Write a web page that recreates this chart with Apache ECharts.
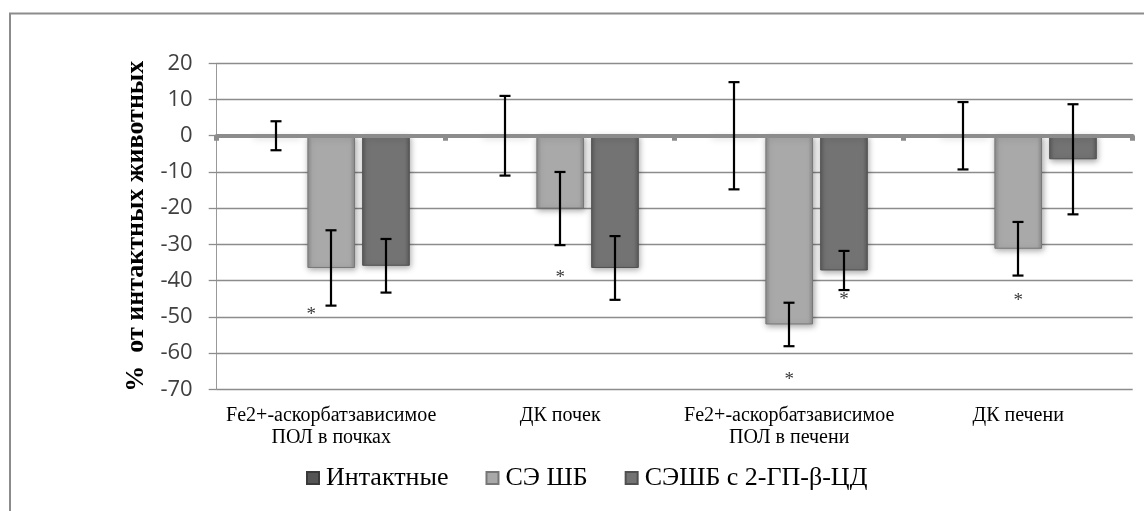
<!DOCTYPE html>
<html>
<head>
<meta charset="utf-8">
<script src="https://cdn.jsdelivr.net/npm/echarts@6/dist/echarts.min.js"></script>
<style>html,body{margin:0;padding:0;background:#fff}#c{width:1144px;height:511px}</style>
</head>
<body>
<div id="c"></div>
<script>
const categories = ['Fe2+-аскорбатзависимое\nПОЛ в почках', 'ДК почек', 'Fe2+-аскорбатзависимое\nПОЛ в печени', 'ДК печени'];
const seriesNames = ['Интактные', 'СЭ ШБ', 'СЭШБ с 2-ГП-β-ЦД'];
const yTitle = '%  от интактных животных';
const intact = [0, 0, 0, 0];
const intactErr = [4, 11, 14.8, 9.3];
const sesb = [-36.5, -20.1, -52.1, -31.2];
const sesbErr = [10.4, 10.1, 6, 7.4];
const sesbCd = [-35.9, -36.5, -37.2, -6.5];
const sesbCdErr = [7.4, 8.8, 5.4, 15.2];
const sesbStar = [-48.5, -38.2, -66.4, -44.5];
const sesbCdStar = [null, null, -44.3, null];
const yTicks = { min: -70, max: 20, interval: 10 };

const SERIF = 'Liberation Serif';
const BAR_W = 0.208, GAP = 0.15;

function grad(edge, mid) {
  return new echarts.graphic.LinearGradient(0, 0, 1, 0, [
    { offset: 0, color: edge }, { offset: 0.1, color: mid },
    { offset: 0.5, color: mid }, { offset: 0.9, color: mid }, { offset: 1, color: edge }
  ]);
}
const styles = [
  { color: grad('#3f3f3f', '#555555'), borderColor: '#3a3a3a' },
  { color: grad('#8c8c8c', '#a9a9a9'), borderColor: '#777777' },
  { color: grad('#5c5c5c', '#737373'), borderColor: '#505050' }
];

const vals = [intact, sesb, sesbCd];
const errs = [intactErr, sesbErr, sesbCdErr];
const errData = [];
for (let s = 0; s < 3; s++) for (let c = 0; c < categories.length; c++) errData.push([c, vals[s][c], errs[s][c], s]);
const starData = [];
const starSets = [[1, sesbStar], [2, sesbCdStar]];
starSets.forEach(([s, arr]) => arr.forEach((v, c) => { if (v !== null) starData.push([c, v, s]); }));

const barSeries = seriesNames.map((n, s) => ({
  name: n, type: 'bar', data: vals[s], xAxisIndex: 0,
  barWidth: (BAR_W * 100) + '%', barGap: (GAP * 100) + '%',
  itemStyle: Object.assign({ borderWidth: 1, shadowBlur: 6, shadowColor: 'rgba(0,0,0,0.35)', shadowOffsetY: 2, shadowOffsetX: 1 }, styles[s]),
  z: 2
}));

const chart = echarts.init(document.getElementById('c'), null, { renderer: 'canvas' });
chart.setOption({
  animation: false,
  backgroundColor: '#ffffff',
  textStyle: { fontFamily: SERIF },
  graphic: [{ type: 'rect', shape: { x: 10, y: 13.5, width: 1300, height: 700 }, style: { fill: 'none', stroke: '#8c8c8c', lineWidth: 2 }, z: -10 }],
  grid: { left: 216.7, right: 11.3, top: 63.3, bottom: 121.7 },
  legend: {
    data: seriesNames, left: 306, top: 465, padding: 0, itemWidth: 12, itemHeight: 12, itemGap: 37, icon: 'rect',
    formatter: '{t|{name}}',
    textStyle: { fontFamily: SERIF, fontSize: 26, color: '#000',
      rich: { t: { fontFamily: SERIF, fontSize: 26, color: '#000', padding: [0, 0, 0, 2] } } }
  },
  xAxis: [{
    type: 'category', data: categories, position: 'bottom',
    axisLine: { show: false, onZero: false }, axisTick: { show: false },
    axisLabel: { fontFamily: SERIF, fontSize: 20, color: '#000', lineHeight: 22, margin: 15, interval: 0 }
  }, {
    type: 'category', data: categories, position: 'top',
    axisLine: { show: true, onZero: true, lineStyle: { color: '#8c8c8c', width: 4 } },
    axisTick: { show: true, inside: true, length: 5, lineStyle: { color: '#8c8c8c', width: 5 } },
    axisLabel: { show: false }, z: 3
  }],
  yAxis: {
    type: 'value', min: yTicks.min, max: yTicks.max, interval: yTicks.interval,
    name: yTitle, nameLocation: 'middle', nameGap: 66, nameRotate: 90,
    nameTextStyle: { fontFamily: SERIF, fontWeight: 'bold', fontSize: 26, color: '#000' },
    axisLine: { show: true, lineStyle: { color: '#999', width: 1 } },
    axisTick: { show: true, length: 8, lineStyle: { color: '#8c8c8c', width: 1.3 } },
    axisLabel: { fontFamily: 'Open Sans', fontSize: 22, color: '#404040', margin: 24 },
    splitLine: { lineStyle: { color: '#8c8c8c', width: 1.3 } }
  },
  series: barSeries.concat([{
    type: 'custom', xAxisIndex: 0, data: errData, encode: { x: 0, y: 1 }, z: 10, silent: true,
    renderItem: function (params, api) {
      const c = api.value(0), v = api.value(1), e = api.value(2), s = api.value(3);
      const band = api.size([1, 0])[0];
      const step = band * BAR_W * (1 + GAP);
      const x = Math.round(api.coord([c, 0])[0] + (s - 1) * step);
      const yT = api.coord([c, v + e])[1], yB = api.coord([c, v - e])[1];
      const h = 5.5, st = { stroke: '#000', lineWidth: 2.2 };
      return { type: 'group', children: [
        { type: 'line', shape: { x1: x, y1: yT, x2: x, y2: yB }, style: st },
        { type: 'line', shape: { x1: x - h, y1: yT, x2: x + h, y2: yT }, style: st },
        { type: 'line', shape: { x1: x - h, y1: yB, x2: x + h, y2: yB }, style: st }
      ] };
    }
  }, {
    type: 'custom', xAxisIndex: 0, data: starData, encode: { x: 0, y: 1 }, z: 11, silent: true,
    renderItem: function (params, api) {
      const c = api.value(0), v = api.value(1), s = api.value(2);
      const band = api.size([1, 0])[0];
      const step = band * BAR_W * (1 + GAP);
      let x = api.coord([c, 0])[0] + (s - 1) * step;
      if (c === 0 && s === 1) x -= 20;
      const y = api.coord([c, v])[1];
      return { type: 'text', x: x, y: y + 4, style: { text: '*', fontFamily: SERIF, fontSize: 19, fill: '#3a3a3a', align: 'center', verticalAlign: 'middle' } };
    }
  }])
});
</script>
</body>
</html>
